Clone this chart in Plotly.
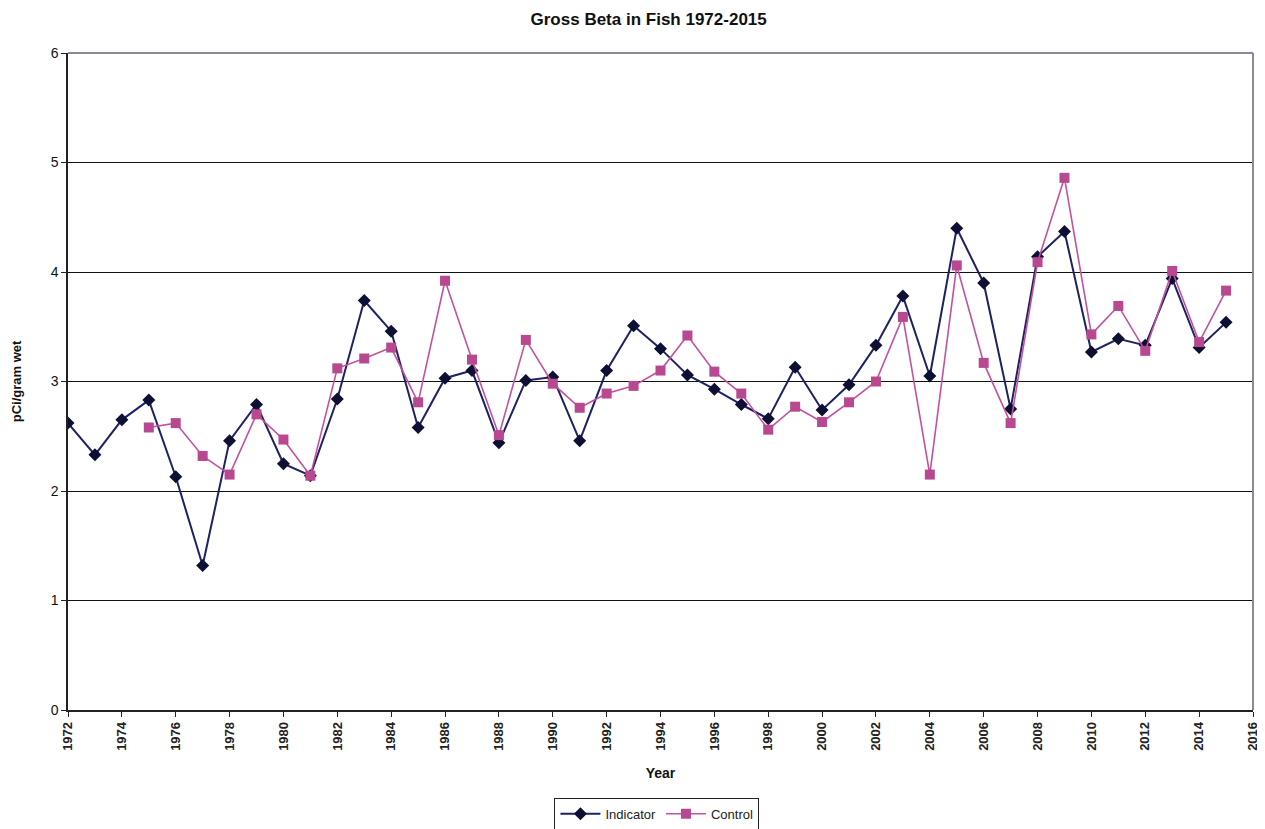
import plotly.graph_objects as go

years_ind = list(range(1972, 2016))
indicator = [2.62, 2.33, 2.65, 2.83, 2.13, 1.32, 2.46, 2.79, 2.25, 2.14,
             2.84, 3.74, 3.46, 2.58, 3.03, 3.10, 2.44, 3.01, 3.04, 2.46,
             3.10, 3.51, 3.30, 3.06, 2.93, 2.79, 2.66, 3.13, 2.74, 2.97,
             3.33, 3.78, 3.05, 4.40, 3.90, 2.75, 4.14, 4.37, 3.27, 3.39,
             3.33, 3.94, 3.31, 3.54]

years_ctl = list(range(1975, 2016))
control = [2.58, 2.62, 2.32, 2.15, 2.70, 2.47, 2.14, 3.12, 3.21, 3.31,
           2.81, 3.92, 3.20, 2.51, 3.38, 2.98, 2.76, 2.89, 2.96, 3.10,
           3.42, 3.09, 2.89, 2.56, 2.77, 2.63, 2.81, 3.00, 3.59, 2.15,
           4.06, 3.17, 2.62, 4.09, 4.86, 3.43, 3.69, 3.28, 4.01, 3.36,
           3.83]

x_ticks = list(range(1972, 2017, 2))
y_ticks = [0, 1, 2, 3, 4, 5, 6]

FONT = "Liberation Sans Narrow, Liberation Sans, Arial, sans-serif"
NAVY = "#1e2163"
PINK = "#c2529c"

fig = go.Figure()
fig.add_trace(go.Scatter(
    x=years_ind, y=indicator, name="Indicator", mode="lines+markers",
    line=dict(color=NAVY, width=2),
    marker=dict(symbol="diamond", size=10, color="#0e1033"),
))
fig.add_trace(go.Scatter(
    x=years_ctl, y=control, name="Control", mode="lines+markers",
    line=dict(color=PINK, width=1.6),
    marker=dict(symbol="square", size=10, color="#b8488f"),
))

# page body adds an 8px offset; figure is sized to compensate
fig.update_layout(
    width=1257, height=821,
    paper_bgcolor="white", plot_bgcolor="white",
    margin=dict(l=60, r=12, t=45, b=119, autoexpand=False),
    title=dict(text="<b>Gross Beta in Fish 1972-2015</b>", xref="paper", x=0.49, xanchor="center",
               y=0.987, yanchor="middle",
               font=dict(family=FONT, size=17, color="#111")),
    font=dict(family=FONT, size=13, color="#111"),
    showlegend=True,
    legend=dict(orientation="h", x=0.497, xanchor="center", y=-0.158, yanchor="middle",
                bordercolor="#222", borderwidth=1, bgcolor="white",
                font=dict(family=FONT, size=13, color="#222"),
                itemwidth=40, tracegroupgap=0),
)
fig.update_xaxes(
    range=[1972, 2016], tickvals=x_ticks, ticktext=[f"<b>{v}</b>" for v in x_ticks],
    tickangle=-90, ticks="outside", ticklen=5, tickcolor="#222", automargin=False,
    showgrid=False, zeroline=False, showline=True, linecolor="#222", linewidth=1.5,
    tickfont=dict(family=FONT, size=13, color="#222"),
    title=dict(text="<b>Year</b>", font=dict(family=FONT, size=14, color="#111"), standoff=18),
)
fig.update_yaxes(
    range=[0, 6], tickvals=y_ticks, ticks="outside", ticklen=5, tickcolor="#222",
    automargin=False,
    showgrid=True, gridcolor="#111", gridwidth=1.2, zeroline=False,
    showline=True, linecolor="#222", linewidth=1.5,
    tickfont=dict(family=FONT, size=14, color="#111"),
    title=dict(text="<b>pCi/gram wet</b>", font=dict(family=FONT, size=13, color="#111"), standoff=26),
)
# plot-area border on top and right (gray)
fig.add_shape(type="line", xref="paper", yref="paper", x0=0, x1=1, y0=1, y1=1,
              line=dict(color="#8a8a9a", width=2))
fig.add_shape(type="line", xref="paper", yref="paper", x0=1, x1=1, y0=0, y1=1,
              line=dict(color="#8a8a9a", width=2))

fig.write_html("out.html")
